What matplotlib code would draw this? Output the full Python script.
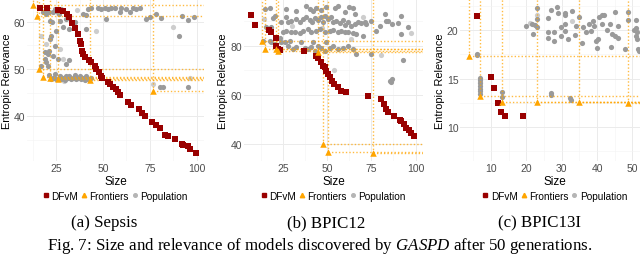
import matplotlib
matplotlib.use('Agg')
import matplotlib.pyplot as plt
from matplotlib.lines import Line2D
from matplotlib.ticker import MultipleLocator

plt.rcParams['font.family'] = ['Liberation Sans', 'DejaVu Sans']
plt.rcParams['mathtext.fontset'] = 'custom'
plt.rcParams['mathtext.rm'] = 'Liberation Serif'
plt.rcParams['mathtext.it'] = 'Liberation Serif:italic'

# ---------------- Sepsis ----------------
sep_dfvm_x = [16.6, 20.0, 25.9, 28.6, 30.7, 32.1, 33.6, 35.2, 36.6, 37.5, 38.0, 38.9, 39.3, 40.2,
              42.5, 43.8, 45.5, 46.4, 47.7, 48.8, 49.6, 52.7, 53.6, 55.4, 56.8, 58.0, 59.3,
              63.4, 65.2, 69.3, 71.1, 72.3, 76.4, 78.6, 80.4, 83.4, 84.5, 88.4, 92.0, 92.9,
              95.5, 96.4, 99.5]
sep_dfvm_y = [63.0, 62.8, 62.5, 62.3, 61.6, 60.9, 59.7, 58.6, 57.4, 56.0, 55.3, 53.9, 53.2, 52.5,
              52.0, 51.5, 50.7, 50.0, 49.3, 48.6, 48.0, 47.2, 46.8, 46.3, 45.8, 45.1, 44.4,
              43.0, 42.4, 41.5, 40.7, 40.0, 38.7, 38.2, 37.5, 36.1, 35.9, 35.1, 34.2, 34.0,
              33.7, 33.1, 32.3]
sep_front_x = [12.5, 14.6, 15.7, 17.9, 21.8, 25.9, 42.9, 76.8]
sep_front_y = [63.5, 61.3, 50.1, 48.4, 48.0, 47.9, 47.7, 45.4]
sep_pop_x = [17.9, 18.8, 19.6, 21.4, 23.2, 24.1, 25.0, 25.9, 26.4, 27.7, 21.8, 22.9, 26.8, 28.6,
             30.4, 32.1, 34.8, 39.3, 41.1, 40.7, 42.0, 43.8, 47.3, 49.1, 50.9, 51.8, 52.7,
             54.5, 56.2, 58.9, 59.8, 62.5, 64.3, 66.1, 67.9, 69.6, 73.2, 75.0, 78.6, 81.2,
             90.7, 92.0, 95.5, 98.6,
             18.8, 20.5, 21.4, 21.8, 22.3, 23.2, 24.1, 25.0, 25.9, 30.4, 32.1, 18.8, 19.6,
             20.5, 17.0,
             21.4, 23.2, 25.0, 26.8, 27.7, 28.6, 29.5, 30.4, 31.3, 32.1, 33.0, 33.9, 34.8,
             35.7, 36.6, 37.5, 38.4, 39.3, 40.2, 41.1, 42.0, 43.8, 24.1, 22.3,
             80.4, 82.1, 95.5]
sep_pop_y = [62.0, 62.3, 61.6, 62.0, 62.1, 62.7, 62.3, 62.0, 61.6, 62.7, 60.2, 59.9, 60.2, 58.8,
             60.6, 58.5, 59.9, 61.6, 61.4, 58.5, 62.7, 62.8, 63.0, 62.7, 62.8, 60.6, 62.7,
             62.8, 63.0, 62.0, 63.0, 62.7, 62.0, 63.0, 62.7, 62.8, 60.6, 60.9, 61.6, 60.7,
             57.0, 61.3, 60.4, 60.9,
             53.5, 53.2, 53.9, 56.3, 57.0, 52.8, 54.9, 58.1, 52.1, 51.1, 51.8, 52.1, 51.4,
             50.7, 50.7,
             48.7, 48.2, 47.9, 48.5, 47.9, 48.2, 47.7, 48.6, 48.0, 48.5, 47.9, 48.2, 48.7,
             47.9, 48.2, 48.5, 47.9, 48.2, 47.7, 48.5, 47.9, 48.0, 48.9, 47.9,
             46.3, 46.3, 46.3]
sep_faint_x = [46.4, 87.5, 17.0, 19.6, 26.8, 28.6, 76.8, 96.4, 36.0, 29.0]
sep_faint_y = [58.1, 58.8, 57.0, 55.3, 54.2, 52.1, 46.8, 48.2, 62.5, 47.5]

# ---------------- BPIC12 ----------------
b12_dfvm_x = [7.1, 9.3, 16.9, 18.4, 20.8, 21.2, 22.2, 23.1, 36.9, 43.9, 44.8, 46.3, 47.6, 48.6,
              49.5, 50.5, 51.4, 52.7, 53.9, 56.1, 57.6, 60.5, 73.1, 80.3, 82.2, 83.5, 84.4,
              87.8, 91.0, 92.0, 93.3, 94.8, 96.1, 97.6, 99.0]
b12_dfvm_y = [92.5, 88.4, 86.4, 85.4, 83.0, 80.0, 78.6, 78.4, 78.0, 75.9, 74.8, 73.2, 71.9, 71.2,
              69.8, 68.5, 67.1, 65.8, 64.4, 63.1, 61.7, 61.3, 59.7, 58.3, 56.3, 54.2, 52.9,
              51.3, 49.9, 49.5, 48.1, 46.4, 45.8, 44.5, 43.1]
b12_front_x = [13.1, 15.0, 21.2, 22.2, 44.8, 47.6, 50.5, 75.9]
b12_front_y = [82.0, 78.6, 78.6, 78.0, 77.6, 40.0, 36.9, 36.3]
b12_pop_x = [14.6, 17.5, 26.9, 32.5, 38.2, 40.1, 42.0, 43.9, 46.3, 49.5, 54.2, 56.1, 60.3, 62.2,
             64.6, 66.0, 82.5, 92.0, 95.8, 77.8, 79.7, 83.5, 84.4, 86.7, 90.1, 92.0,
             19.3, 20.3, 24.1, 26.9, 27.8, 29.7, 32.5, 34.4, 36.3, 38.2, 40.1, 41.4, 42.9,
             44.8, 46.3, 47.6, 49.0, 50.5, 52.4, 53.3, 55.2, 57.1, 59.0, 59.9, 61.8, 63.7,
             65.6, 67.5, 69.3, 71.2, 72.2, 74.6,
             15.6, 17.5, 18.4, 25.0, 26.9, 29.7, 32.0, 34.4, 36.3, 39.2, 41.0, 43.9, 45.8,
             48.6, 51.4, 53.3, 56.1, 58.0, 59.9, 61.8, 64.6, 66.5, 70.3,
             13.7, 17.5, 18.4, 20.3, 23.1, 24.1, 25.9, 27.8, 28.8, 30.7, 32.5, 35.4, 37.3,
             39.2, 41.0, 42.0, 42.9, 44.8, 46.7, 48.6, 49.5, 51.4, 53.3, 56.1, 59.0, 61.8,
             64.6, 66.5, 75.0,
             85.4, 86.3, 86.7, 92.9]
b12_pop_y = [94.9, 95.2, 94.9, 94.2, 96.0, 94.9, 94.2, 95.2, 94.6, 95.6, 95.2, 96.0, 93.8, 95.6,
             95.2, 92.9, 92.9, 92.2, 87.5, 86.1, 88.1, 90.2, 90.2, 88.8, 89.2, 84.7,
             91.1, 91.9, 89.8, 91.5, 89.5, 90.2, 90.8, 89.8, 90.8, 91.5, 90.6, 89.5, 91.1,
             90.6, 91.5, 89.5, 92.2, 90.8, 91.5, 89.8, 90.2, 89.2, 90.6, 88.4, 89.5, 87.9,
             88.8, 89.8, 89.2, 89.5, 88.8, 90.2,
             87.5, 86.8, 87.5, 85.4, 86.1, 85.4, 85.7, 85.2, 86.1, 86.8, 85.4, 86.1, 86.8,
             85.4, 86.1, 86.5, 85.4, 86.1, 85.7, 85.4, 85.2, 84.7, 84.1,
             82.0, 82.0, 81.4, 80.7, 83.0, 81.4, 81.6, 80.0, 82.0, 78.6, 79.3, 81.4, 78.9,
             78.6, 79.3, 81.4, 78.0, 80.0, 78.9, 78.0, 81.4, 78.9, 80.0, 78.6, 78.9, 80.0,
             78.6, 76.6, 76.6,
             65.7, 65.1, 66.4, 74.3]
b12_faint_x = [97.6, 63.7, 80.7, 53.7, 14.0, 30.0, 47.0, 70.0]
b12_faint_y = [85.2, 82.7, 76.3, 70.1, 91.0, 88.0, 87.0, 91.5]

# ---------------- BPIC13I ----------------
b13_dfvm_x = [5.9, 9.9, 10.9, 11.9, 12.8, 14.0, 19.0]
b13_dfvm_y = [21.4, 15.2, 14.0, 12.5, 11.5, 11.1, 11.1]
b13_front_x = [3.8, 6.9, 13.0, 23.0, 34.8, 48.8]
b13_front_y = [17.3, 13.2, 12.6, 12.6, 12.6, 12.5]
b13_pop_x = [5.9, 5.9, 6.9, 6.9, 6.9, 6.9, 6.9, 6.9, 6.9, 13.0, 13.0, 27.0, 27.0, 32.4, 32.7,
             19.8, 21.6, 22.0, 22.5, 23.0, 23.0, 23.0, 26.1, 26.1, 26.1, 27.0, 27.9, 27.9,
             28.8, 28.9, 29.9, 29.9, 31.0, 31.0, 31.0, 31.0, 31.9, 32.9, 33.7, 34.1, 35.0,
             35.8, 35.9, 37.0, 37.7, 38.4, 38.8, 39.1, 39.7, 40.0, 40.3, 40.7, 41.3, 41.4,
             41.9, 42.9, 43.8, 44.0, 44.3, 45.0, 45.2, 46.0, 46.0, 47.9, 48.8, 48.8, 50.9,
             50.9, 51.4, 51.4, 51.7, 51.9, 50.9, 50.4, 53.0, 53.5, 54.0]
b13_pop_y = [17.4, 17.5, 15.1, 14.8, 14.5, 14.2, 13.9, 13.7, 13.4, 13.6, 13.1, 13.5, 13.3, 13.0,
             12.8,
             20.4, 20.6, 19.6, 20.5, 22.3, 21.1, 20.3, 21.2, 19.8, 19.2, 22.1, 19.8, 18.9,
             22.4, 21.8, 20.3, 19.4, 21.8, 21.5, 20.6, 19.9, 19.1, 22.0, 19.5, 20.4, 21.3,
             18.7, 20.3, 19.8, 20.6, 19.9, 20.9, 20.4, 18.9, 18.2, 19.1, 21.3, 21.5, 20.6,
             21.5, 20.0, 20.6, 18.3, 19.6, 21.9, 19.4, 19.2, 20.4, 18.0, 21.9, 21.0, 21.0,
             20.2, 19.8, 19.1, 18.0, 17.8, 19.4, 20.0, 20.8, 19.5, 18.4]
b13_faint_x = [32.9, 21.0, 23.0, 6.9]
b13_faint_y = [20.9, 20.7, 21.6, 14.6]

dark_red = '#990000'
orange = '#FFA500'
grey = '#9a9a9a'
faint = '#cdcdcd'

W, H = 640, 255
fig = plt.figure(figsize=(6.4, 2.55), dpi=100)


def make_panel(left, right, xlim, ylim, xmaj, ymaj, ylab_x, dfx, dfy, frx, fry, px, py, fx, fy):
    ax = fig.add_axes([left / W, (H - 162) / H, (right - left) / W, 162 / H])
    ax.set_xlim(*xlim)
    ax.set_ylim(*ylim)
    ax.xaxis.set_major_locator(MultipleLocator(xmaj))
    ax.xaxis.set_minor_locator(MultipleLocator(xmaj / 2))
    ax.yaxis.set_major_locator(MultipleLocator(ymaj))
    ax.yaxis.set_minor_locator(MultipleLocator(ymaj / 2))
    ax.grid(which='major', color='#ebebeb', lw=0.7)
    ax.grid(which='minor', color='#f3f3f3', lw=0.4)
    ax.set_axisbelow(True)
    for s in ax.spines.values():
        s.set_visible(False)
    ax.tick_params(which='both', length=0, labelsize=7.5, colors='#4d4d4d', pad=1.2)
    ax.tick_params(axis='x', pad=1.5)

    ax.scatter(fx, fy, s=14, color=faint, lw=0, zorder=2)
    ax.scatter(px, py, s=14, color=grey, lw=0, zorder=2)
    for xx, yy in zip(frx, fry):
        ax.hlines(yy, xx, xlim[1], colors=orange, linestyles=(0, (1, 1.5)), lw=1.0, alpha=0.75, zorder=3)
        ax.vlines(xx, yy, ylim[1], colors=orange, linestyles=(0, (1, 1.5)), lw=1.0, alpha=0.75, zorder=3)
    ax.scatter(dfx, dfy, s=13, marker='s', color=dark_red, lw=0, zorder=4)
    ax.scatter(frx, fry, s=22, marker='^', color=orange, lw=0, zorder=5)

    ax.set_xlabel('Size', fontsize=8.5)
    ax.xaxis.set_label_coords(0.5, -0.085)
    ax.set_ylabel('Entropic Relevance', fontsize=7.9)
    ax.yaxis.set_label_coords(ylab_x, 0.5)

    handles = [Line2D([], [], ls='none', marker='s', color=dark_red, ms=2.6),
               Line2D([], [], ls='none', marker='^', color=orange, ms=3.2),
               Line2D([], [], ls='none', marker='o', color='#b5b5b5', ms=2.6)]
    ax.legend(handles, ['DFvM', 'Frontiers', 'Population'], loc='center', ncol=3,
              bbox_to_anchor=(0.5, -0.215), frameon=False, fontsize=7.2,
              handlelength=0.5, handletextpad=0.3, columnspacing=0.35, borderpad=0)
    return ax


make_panel(27, 204, (9.4, 104.0), (30.55, 64.8), 25, 10, -0.087,
           sep_dfvm_x, sep_dfvm_y, sep_front_x, sep_front_y, sep_pop_x, sep_pop_y,
           sep_faint_x, sep_faint_y)
make_panel(244, 423, (2.9, 104.2), (33.1, 99.0), 25, 20, -0.09,
           b12_dfvm_x, b12_dfvm_y, b12_front_x, b12_front_y, b12_pop_x, b12_pop_y,
           b12_faint_x, b12_faint_y)
make_panel(460, 650, (1.2, 55.0), (6.5, 23.2), 10, 5, -0.08,
           b13_dfvm_x, b13_dfvm_y, b13_front_x, b13_front_y, b13_pop_x, b13_pop_y,
           b13_faint_x, b13_faint_y)

serif = ['Liberation Serif', 'DejaVu Serif']
fig.text(104 / W, 1 - 223 / H, '(a) Sepsis', ha='center', va='center', family=serif, fontsize=12.2)
fig.text(326 / W, 1 - 223 / H, '(b) BPIC12', ha='center', va='center', family=serif, fontsize=12.2)
fig.text(540 / W, 1 - 223 / H, '(c) BPIC13I', ha='center', va='center', family=serif, fontsize=12.2)
fig.text(320 / W, 1 - 246 / H,
         'Fig. 7: Size and relevance of models discovered by $\\it{GASPD}$ after 50 generations.',
         ha='center', va='center', family=serif, fontsize=12.2)

fig.savefig('out.png', dpi=100)
